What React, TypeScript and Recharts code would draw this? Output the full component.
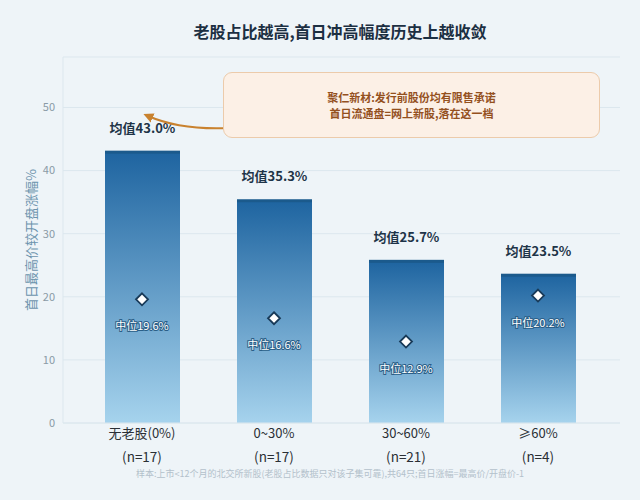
import React from 'react';
import { ComposedChart, Bar, Scatter, XAxis, YAxis, CartesianGrid, LabelList } from 'recharts';

const categories = ['无老股(0%)', '0~30%', '30~60%', '≥60%'];
const sampleSizes = [17, 17, 21, 4];
const meanValues = [43.0, 35.3, 25.7, 23.5];
const medianValues = [19.6, 16.6, 12.9, 20.2];
const yTicks = [0, 10, 20, 30, 40, 50];

const data = categories.map((name, i) => ({
  name,
  n: sampleSizes[i],
  mean: meanValues[i],
  median: medianValues[i],
}));

const FONT = '"Noto Sans CJK SC", "Noto Sans", sans-serif';
const BG = '#eef4f8';

const BarShape = (props: any) => {
  const { x, y, width, height } = props;
  return (
    <g>
      <rect x={x} y={y} width={width} height={height} fill="url(#barGrad)" />
      <rect x={x} y={y - 1} width={width} height={3} fill="#1b5a8c" />
    </g>
  );
};

const MedianShape = (props: any) => {
  const { cx, cy, payload } = props;
  const r = 6;
  return (
    <g>
      <path
        d={`M${cx},${cy - r} L${cx + r},${cy} L${cx},${cy + r} L${cx - r},${cy} Z`}
        fill="#ffffff"
        stroke="#183a58"
        strokeWidth={1.8}
      />
      <text
        x={cx}
        y={cy + 31}
        textAnchor="middle"
        fontSize={11}
        fontFamily={FONT}
        fill="#ffffff"
        stroke="#2b5f88"
        strokeWidth={2}
        paintOrder="stroke"
      >
        {`中位${payload.median.toFixed(1)}%`}
      </text>
    </g>
  );
};

const MeanLabel = (props: any) => {
  const { x, y, width, value } = props;
  return (
    <text
      x={x + width / 2}
      y={y - 19}
      textAnchor="middle"
      fontSize={13}
      fontWeight="bold"
      fontFamily={FONT}
      fill="#1e3448"
    >
      {`均值${Number(value).toFixed(1)}%`}
    </text>
  );
};

const CategoryTick = (props: any) => {
  const { x, y, payload, index } = props;
  return (
    <g>
      <text x={x} y={y + 7} textAnchor="middle" fontSize={13} fontFamily={FONT} fill="#2a2f35">
        {payload.value}
      </text>
      <text x={x} y={y + 31} textAnchor="middle" fontSize={13.5} fontFamily={FONT} fill="#2a2f35">
        {`(n=${sampleSizes[index]})`}
      </text>
    </g>
  );
};

export default function App() {
  return (
    <div style={{ position: 'absolute', left: 0, top: 0, width: 640, height: 500, background: BG, fontFamily: FONT }}>
      <div
        style={{
          position: 'absolute',
          top: 19,
          left: 0,
          width: 680,
          textAlign: 'center',
          fontSize: 16,
          fontWeight: 'bold',
          color: '#1c2f42',
        }}
      >
        老股占比越高,首日冲高幅度历史上越收敛
      </div>

      <ComposedChart
        width={640}
        height={500}
        data={data}
        margin={{ top: 57, right: 20, bottom: 47, left: 23 }}
        style={{ position: 'absolute', left: 0, top: 0 }}
      >
        <defs>
          <linearGradient id="barGrad" x1="0" y1="0" x2="0" y2="1">
            <stop offset="0%" stopColor="#1e64a0" />
            <stop offset="100%" stopColor="#a6d3ed" />
          </linearGradient>
        </defs>
        <CartesianGrid vertical={false} stroke="#dce7ee" strokeWidth={1} />
        <XAxis
          dataKey="name"
          height={30}
          tick={<CategoryTick />}
          tickLine={false}
          axisLine={{ stroke: '#dce7ee' }}
          padding={{ left: 13, right: 16 }}
          interval={0}
        />
        <YAxis
          width={40}
          domain={[0, 58]}
          ticks={yTicks}
          tick={{ fontSize: 11, fill: '#8a9aa6', fontFamily: FONT }}
          tickLine={false}
          axisLine={{ stroke: '#dce7ee' }}
          label={{
            value: '首日最高价较开盘涨幅%',
            angle: -90,
            position: 'insideLeft',
            dx: 3,
            style: { fontSize: 13, fill: '#6c93ad', fontFamily: FONT, textAnchor: 'middle' },
          }}
        />
        <Bar dataKey="mean" barSize={75} shape={<BarShape />} isAnimationActive={false}>
          <LabelList dataKey="mean" content={<MeanLabel />} />
        </Bar>
        <Scatter dataKey="median" shape={<MedianShape />} isAnimationActive={false} />
      </ComposedChart>

      <svg width={640} height={500} style={{ position: 'absolute', left: 0, top: 0, pointerEvents: 'none' }}>
        <defs>
          <marker id="arrowHead" viewBox="0 0 10 10" refX="5" refY="5" markerWidth="5" markerHeight="5" orient="auto-start-reverse">
            <path d="M0,0 L10,5 L0,10 Z" fill="#c9822f" />
          </marker>
        </defs>
        <path d="M228,128 Q180,130 148,116" fill="none" stroke="#c9822f" strokeWidth={2} markerEnd="url(#arrowHead)" />
      </svg>

      <div
        style={{
          position: 'absolute',
          left: 223,
          top: 72,
          width: 377,
          height: 66,
          boxSizing: 'border-box',
          background: '#fcf0e6',
          border: '1.5px solid #eccbab',
          borderRadius: 9,
          display: 'flex',
          flexDirection: 'column',
          justifyContent: 'center',
          alignItems: 'center',
          fontSize: 11,
          fontWeight: 'bold',
          color: '#94501e',
          lineHeight: '16px',
        }}
      >
        <div>聚仁新材:发行前股份均有限售承诺</div>
        <div>首日流通盘=网上新股,落在这一档</div>
      </div>

      <div
        style={{
          position: 'absolute',
          top: 467,
          left: 0,
          width: 660,
          textAlign: 'center',
          fontSize: 9,
          color: '#b3c1cb',
        }}
      >
        样本:上市&lt;12个月的北交所新股(老股占比数据只对该子集可靠),共64只;首日涨幅=最高价/开盘价-1
      </div>
    </div>
  );
}
